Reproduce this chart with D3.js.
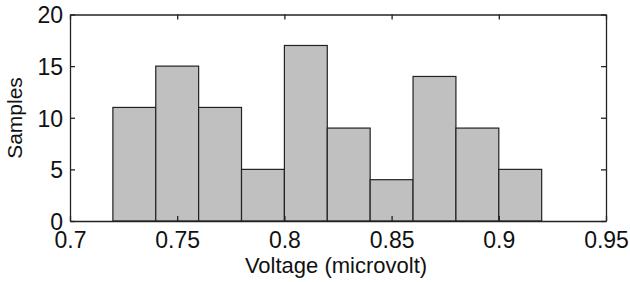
<!DOCTYPE html>
<html>
<head>
<meta charset="utf-8">
<script src="https://cdn.jsdelivr.net/npm/d3@7"></script>
<style>
  body { margin: 0; background: #fff; }
  text { font-family: "Liberation Sans", Arial, sans-serif; fill: #111; }
</style>
</head>
<body>
<div id="chart"></div>
<script>
// histogram bins (left edge) and counts
const binStarts = [0.72, 0.74, 0.76, 0.78, 0.80, 0.82, 0.84, 0.86, 0.88, 0.90];
const binWidth = 0.02;
const counts = [11, 15, 11, 5, 17, 9, 4, 14, 9, 5];
const xTicks = [0.7, 0.75, 0.8, 0.85, 0.9, 0.95];
const yTicks = [0, 5, 10, 15, 20];

const margin = {top: 14.5, right: 24, bottom: 61, left: 70},
  width = 630 - margin.left - margin.right,
  height = 282 - margin.top - margin.bottom;

const svg = d3.select("#chart")
  .append("svg")
  .attr("width", 630)
  .attr("height", 282)
  .append("g")
  .attr("transform", "translate(" + margin.left + "," + margin.top + ")");

const x = d3.scaleLinear().domain([0.7, 0.95]).range([0, width]);
const y = d3.scaleLinear().domain([0, 20]).range([height, 0]);

// bars
svg.selectAll("rect.bar")
  .data(binStarts)
  .enter().append("rect")
  .attr("class", "bar")
  .attr("x", d => x(d))
  .attr("width", d => x(d + binWidth) - x(d))
  .attr("y", (d, i) => y(counts[i]))
  .attr("height", (d, i) => y(0) - y(counts[i]))
  .style("fill", "#c0c0c0")
  .style("stroke", "#222")
  .style("stroke-width", 1.2);

// axes, ticks pointing inward
const fmt = d => String(d);
const axBottom = svg.append("g")
  .attr("transform", "translate(0," + height + ")")
  .call(d3.axisBottom(x).tickValues(xTicks).tickFormat(fmt).tickSizeInner(-5).tickSizeOuter(0).tickPadding(11));
const axTop = svg.append("g")
  .call(d3.axisTop(x).tickValues(xTicks).tickFormat("").tickSizeInner(-5).tickSizeOuter(0));
const axLeft = svg.append("g")
  .call(d3.axisLeft(y).tickValues(yTicks).tickFormat(fmt).tickSizeInner(-5).tickSizeOuter(0).tickPadding(7));
const axRight = svg.append("g")
  .attr("transform", "translate(" + width + ",0)")
  .call(d3.axisRight(y).tickValues(yTicks).tickFormat("").tickSizeInner(-5).tickSizeOuter(0));

[axBottom, axTop, axLeft, axRight].forEach(g => {
  g.selectAll("path, line").style("stroke", "#222").style("stroke-width", 1.3);
  g.selectAll("text").style("font-size", "23px").style("fill", "#111")
    .style("font-family", "'Liberation Sans', Arial, sans-serif");
});
axBottom.selectAll("text").attr("dy", "0.71em");
axLeft.selectAll("text").attr("dy", "0.36em");

// axis labels
svg.append("text")
  .attr("x", 266)
  .attr("y", height + 52)
  .attr("text-anchor", "middle")
  .style("font-size", "22px")
  .text("Voltage (microvolt)");

svg.append("text")
  .attr("transform", "rotate(-90)")
  .attr("x", -103.5)
  .attr("y", -48)
  .attr("text-anchor", "middle")
  .style("font-size", "21px")
  .text("Samples");
</script>
</body>
</html>
